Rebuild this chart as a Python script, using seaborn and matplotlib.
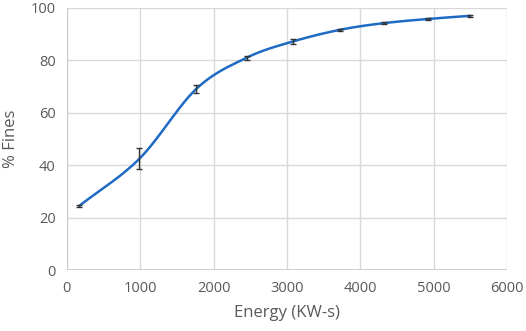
import numpy as np
import pandas as pd
import matplotlib
matplotlib.use("Agg")
import matplotlib.pyplot as plt
import seaborn as sns

# values
energy = [170, 990, 1760, 2450, 3080, 3730, 4320, 4925, 5500]
fines = [24.5, 42.5, 69.0, 81.0, 87.2, 91.7, 94.2, 95.8, 97.0]
fines_err = [0.5, 4.0, 1.5, 0.8, 0.9, 0.4, 0.3, 0.3, 0.3]

df = pd.DataFrame({"Energy": energy, "Fines": fines, "err": fines_err})


def smooth(x, y, n=40):
    # excel-like smoothed line: catmull-rom bezier through the points
    x = np.asarray(x, float)
    y = np.asarray(y, float)
    px = np.concatenate([[2 * x[0] - x[1]], x, [2 * x[-1] - x[-2]]])
    py = np.concatenate([[2 * y[0] - y[1]], y, [2 * y[-1] - y[-2]]])
    xs, ys = [], []
    t = np.linspace(0, 1, n)
    for i in range(1, len(px) - 2):
        p0 = np.array([px[i], py[i]])
        p3 = np.array([px[i + 1], py[i + 1]])
        p1 = p0 + (np.array([px[i + 1], py[i + 1]]) - np.array([px[i - 1], py[i - 1]])) / 6
        p2 = p3 - (np.array([px[i + 2], py[i + 2]]) - np.array([px[i], py[i]])) / 6
        b = ((1 - t) ** 3)[:, None] * p0 + (3 * (1 - t) ** 2 * t)[:, None] * p1 \
            + (3 * (1 - t) * t ** 2)[:, None] * p2 + (t ** 3)[:, None] * p3
        xs.extend(b[:, 0])
        ys.extend(b[:, 1])
    return np.array(xs), np.array(ys)


sns.set_theme(style="whitegrid")
plt.rcParams["font.family"] = ["Open Sans", "DejaVu Sans"]

fig = plt.figure(figsize=(5.26, 3.31), dpi=100)
ax = fig.add_axes([0.127, 0.184, 0.837, 0.792])

sx, sy = smooth(df["Energy"], df["Fines"])
sns.lineplot(x=sx, y=sy, ax=ax, color="#1F6BC4", linewidth=1.8, sort=False)
ax.errorbar(df["Energy"], df["Fines"], yerr=df["err"], fmt="none",
            ecolor="#333333", elinewidth=1.0, capsize=2.5, capthick=1.0, zorder=3)

ax.set_xlim(0, 6000)
ax.set_ylim(0, 100)
ax.set_xticks(range(0, 6001, 1000))
ax.set_yticks(range(0, 101, 20))
ax.grid(True, color="#D9D9D9", linewidth=1.0)
for s in ax.spines.values():
    s.set_visible(False)
ax.axhline(0, color="#C8C8C8", linewidth=1.2, zorder=1)
ax.axvline(0, color="#C8C8C8", linewidth=1.2, zorder=1)
ax.tick_params(axis="both", length=0, labelsize=10.5, labelcolor="#595959", pad=8)
ax.set_xlabel("Energy (KW-s)", fontsize=12, color="#595959", labelpad=6)
ax.set_ylabel("% Fines", fontsize=12, color="#595959", labelpad=8)

fig.savefig("out.png", dpi=100)
